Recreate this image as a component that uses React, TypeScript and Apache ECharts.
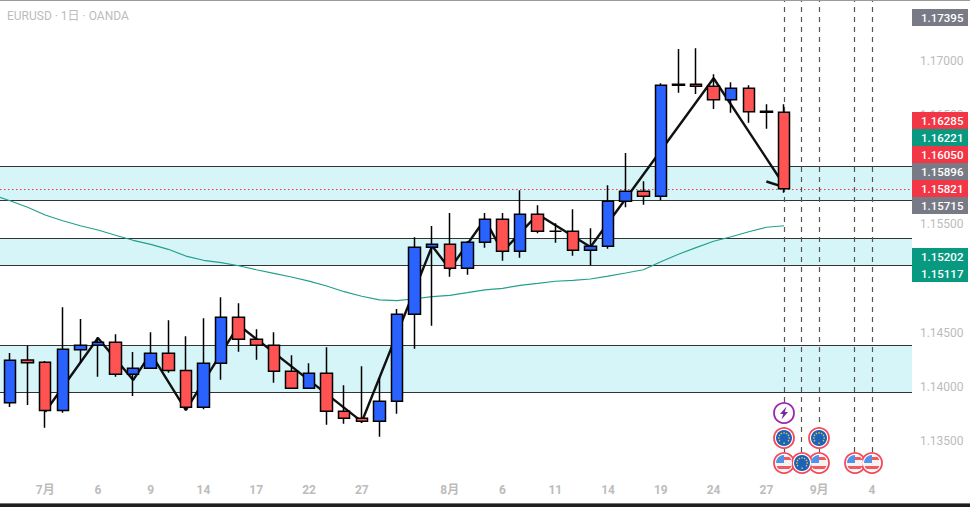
import React, { useEffect, useRef } from "react";
import * as echarts from "echarts";

const xLabels: Record<number, string> = {
  3: "7月", 6: "6", 9: "9", 12: "14", 15: "17", 18: "22", 21: "27",
  26: "8月", 29: "6", 32: "11", 35: "14", 38: "19", 41: "24", 44: "27", 47: "9月", 50: "4",
};
const categoryCount = 53;
const categories = Array.from({ length: categoryCount }, (_, i) => xLabels[i] ?? "");

const opens = [
  1.13855, 1.14248, 1.14227, 1.13785, 1.14343, 1.14384, 1.14411, 1.14117, 1.14172, 1.14310,
  1.14153, 1.13813, 1.14218, 1.14641, 1.14439, 1.14384, 1.14144, 1.13988, 1.14126, 1.13776,
  1.13712, 1.13684, 1.13868, 1.14669, 1.15286, 1.15313, 1.15092, 1.15332, 1.15543, 1.15249,
  1.15589, 1.15433, 1.15433, 1.15258, 1.15295, 1.15709, 1.15801, 1.15755, 1.16777, 1.16786,
  1.16767, 1.16644, 1.16749, 1.16538, 1.16528,
];
const closes = [
  1.14246, 1.14224, 1.13785, 1.14347, 1.14384, 1.14411, 1.14117, 1.14172, 1.14310, 1.14153,
  1.13813, 1.14218, 1.14641, 1.14439, 1.14384, 1.14144, 1.13988, 1.14126, 1.13776, 1.13712,
  1.13684, 1.13868, 1.14669, 1.15286, 1.15313, 1.15092, 1.15332, 1.15543, 1.15249, 1.15589,
  1.15433, 1.15433, 1.15258, 1.15295, 1.15709, 1.15801, 1.15755, 1.16776, 1.16786, 1.16767,
  1.16644, 1.16749, 1.16533, 1.16529, 1.15825,
];
const lows = [
  1.13816, 1.13834, 1.13625, 1.13763, 1.14221, 1.14095, 1.14095, 1.13917, 1.14172, 1.14131,
  1.13788, 1.13795, 1.14067, 1.14325, 1.14251, 1.14039, 1.13988, 1.13988, 1.13653, 1.13662,
  1.13669, 1.13542, 1.13754, 1.14352, 1.14564, 1.15015, 1.15033, 1.15282, 1.15162, 1.15190,
  1.15414, 1.15328, 1.15208, 1.15120, 1.15273, 1.15654, 1.15678, 1.15718, 1.16708, 1.16696,
  1.16558, 1.16524, 1.16432, 1.16377, 1.15788,
];
const highs = [
  1.14313, 1.14380, 1.14239, 1.14733, 1.14626, 1.14457, 1.14485, 1.14322, 1.14503, 1.14614,
  1.14466, 1.14632, 1.14825, 1.14770, 1.14531, 1.14503, 1.14292, 1.14218, 1.14365, 1.14016,
  1.14190, 1.14083, 1.14718, 1.15378, 1.15482, 1.15601, 1.15343, 1.15601, 1.15601, 1.15810,
  1.15672, 1.15506, 1.15635, 1.15460, 1.15856, 1.16153, 1.15893, 1.16795, 1.17110, 1.17117,
  1.16878, 1.16804, 1.16776, 1.16602, 1.16602,
];
const emaValues = [
  1.15769, 1.15714, 1.15654, 1.15583, 1.15530, 1.15484, 1.15445, 1.15396, 1.15350, 1.15313,
  1.15267, 1.15205, 1.15166, 1.15144, 1.15116, 1.15079, 1.15046, 1.15012, 1.14975, 1.14929,
  1.14877, 1.14835, 1.14801, 1.14794, 1.14812, 1.14831, 1.14844, 1.14868, 1.14893,
  1.14908, 1.14936, 1.14954, 1.14973, 1.14982, 1.14994, 1.15021, 1.15049, 1.15079, 1.15153,
  1.15221, 1.15282, 1.15341, 1.15383, 1.15429, 1.15470, 1.15484,
];
const zigzagPoints = [
  [3, 1.13773], [6, 1.14451], [8, 1.14064], [9, 1.1431], [11, 1.13788], [14, 1.1457],
  [21, 1.13681], [25, 1.15297], [26, 1.15086], [28, 1.15543], [29, 1.15245], [31, 1.15589],
  [34, 1.15288], [41, 1.16841], [45, 1.15859],
];
const zigzagTail = [[44, 1.15891], [45, 1.1584]];
const zones = [
  [1.16034, 1.15721],
  [1.15371, 1.15122],
  [1.14386, 1.13954],
];
const lastPrice = 1.15821;
const eventIndices = [45, 46, 47, 49, 50];
const tickValues = [1.135, 1.14, 1.145, 1.155, 1.165, 1.17];
const yMin = 1.13218;
const yMax = 1.17561;

const priceTags = [
  { text: "1.17395", color: "#787b86", top: 9 },
  { text: "1.16285", color: "#f23645", top: 112 },
  { text: "1.16221", color: "#089981", top: 129 },
  { text: "1.16050", color: "#f23645", top: 146 },
  { text: "1.15896", color: "#787b86", top: 163 },
  { text: "1.15821", color: "#f23645", top: 180 },
  { text: "1.15715", color: "#787b86", top: 197 },
  { text: "1.15202", color: "#089981", top: 248 },
  { text: "1.15117", color: "#089981", top: 265 },
];

const usIcons = [[784, 463], [819, 463], [855, 463], [872, 463]];
const euIcons = [[784, 438], [819, 438], [802, 463]];
const boltIcon = [784, 413];

const AXIS_TEXT = "#bcbcbc";
const FONT = "Roboto, 'Noto Sans CJK JP', sans-serif";

echarts.graphic.registerShape("usCanton", echarts.graphic.extendPath("M-8 0 A8 8 0 0 1 0 -8 L0 0 Z", {}));
echarts.graphic.registerShape("usBarTop", echarts.graphic.extendPath("M0 -6 L5.29 -6 A8 8 0 0 1 7.42 -3 L0 -3 Z", {}));
echarts.graphic.registerShape(
  "usBarMid",
  echarts.graphic.extendPath("M-7.42 3 L7.42 3 A8 8 0 0 1 5.29 6 L-5.29 6 A8 8 0 0 1 -7.42 3 Z", {})
);

const ringIcon = (x: number, y: number, children: any[], stroke = "#f5485a") => ({
  type: "group",
  x,
  y,
  z: 60,
  children: [
    { type: "circle", z: 60, shape: { r: 10 }, style: { fill: "#fff", stroke, lineWidth: 1.8 } },
    ...children,
  ],
});

const usIcon = ([x, y]: number[]) =>
  ringIcon(x, y, [
    { type: "circle", z: 61, shape: { r: 8 }, style: { fill: "#f6f2f2" } },
    { type: "usCanton", z: 62, style: { fill: "#4f93ea" } },
    { type: "usBarTop", z: 62, style: { fill: "#ee5a5f" } },
    { type: "usBarMid", z: 62, style: { fill: "#ee5a5f" } },
  ]);

const euIcon = ([x, y]: number[]) =>
  ringIcon(x, y, [
    { type: "circle", z: 61, shape: { r: 8 }, style: { fill: "#1c62b9" } },
    ...Array.from({ length: 12 }, (_, k) => ({
      type: "circle",
      z: 62,
      shape: {
        cx: 5.2 * Math.cos((k * Math.PI) / 6),
        cy: 5.2 * Math.sin((k * Math.PI) / 6),
        r: 0.75,
      },
      style: { fill: "#e8c84a" },
    })),
  ]);

const boltElement = ([x, y]: number[]) =>
  ringIcon(
    x,
    y,
    [
      {
        type: "polygon",
        z: 62,
        shape: { points: [[2.5, -6.5], [-4, 1], [-0.8, 1], [-2.5, 6.5], [4, -1], [0.8, -1]] },
        style: { fill: "#7b2a9c" },
      },
    ],
    "#9c27b0"
  );

export default function App() {
  const ref = useRef<HTMLDivElement>(null);
  useEffect(() => {
    document.body.style.margin = "0";
    const chart = echarts.init(ref.current!, undefined, { renderer: "svg" });
    const candles: any[] = ["-", ...opens.map((o, i) => [o, closes[i], lows[i], highs[i]])];
    const zoneEdgeStyle = { color: "#333333", type: "solid", width: 1.2 };
    const lastPriceStyle = { color: "#f23645", type: [1.5, 2.5], width: 1.2, opacity: 1 };
    chart.setOption({
      animation: false,
      backgroundColor: "#ffffff",
      title: {
        text: "EURUSD · 1日 · OANDA",
        left: 2,
        top: 4.5,
        textStyle: { fontSize: 12, fontWeight: "normal", color: AXIS_TEXT, fontFamily: FONT },
      },
      grid: { left: -16.385, right: 54.1, top: 0, bottom: 35, outerBoundsMode: "none" },
      xAxis: {
        type: "category",
        data: categories,
        axisLine: { show: false },
        axisTick: { show: false },
        splitLine: { show: false },
        axisLabel: {
          interval: 0,
          hideOverlap: false,
          margin: 12,
          fontSize: 12,
          color: AXIS_TEXT,
          fontFamily: FONT,
          fontWeight: "bold",
        },
      },
      yAxis: {
        type: "value",
        position: "right",
        min: yMin,
        max: yMax,
        axisLine: { show: false },
        axisTick: { show: false },
        splitLine: { show: false },
        axisLabel: {
          customValues: tickValues,
          margin: 4,
          fontSize: 12,
          color: AXIS_TEXT,
          fontFamily: FONT,
          formatter: (v: number) => v.toFixed(5),
        },
      },
      series: [
        {
          type: "line",
          name: "EMA",
          z: 3,
          data: emaValues,
          showSymbol: false,
          lineStyle: { color: "#22a08c", width: 1.2 },
          markArea: {
            silent: true,
            z: 1,
            itemStyle: { color: "#d6f5f8", borderWidth: 0 },
            data: zones.map(([hi, lo]) => [
              { x: -20, yAxis: hi },
              { x: 912, yAxis: lo },
            ]),
          },
          markLine: {
            silent: true,
            symbol: "none",
            z: 2,
            label: { show: false },
            data: [
              ...zones.flat().map((p) => [
                { x: 0, yAxis: p, lineStyle: zoneEdgeStyle },
                { x: 912, yAxis: p, lineStyle: zoneEdgeStyle },
              ]),
              [
                { x: 0, yAxis: lastPrice, lineStyle: lastPriceStyle },
                { x: 912, yAxis: lastPrice, lineStyle: lastPriceStyle },
              ],
              ...eventIndices.map((i) => ({
                xAxis: i,
                lineStyle: { color: "#555555", type: [5, 5], width: 1.2 },
              })),
            ],
          },
        },
        {
          type: "line",
          name: "ZigZag",
          z: 4,
          data: zigzagPoints,
          showSymbol: false,
          lineStyle: { color: "#111111", width: 2.4 },
        },
        {
          type: "line",
          name: "ZigZagTail",
          z: 4,
          data: zigzagTail,
          showSymbol: false,
          lineStyle: { color: "#111111", width: 2.4 },
        },
        {
          type: "candlestick",
          z: 10,
          barWidth: 12,
          data: candles,
          itemStyle: {
            color: "#2962ff",
            color0: "#ff5252",
            borderColor: "#000000",
            borderColor0: "#000000",
            borderWidth: 1.5,
          },
        },
      ],
      graphic: [
        { type: "rect", z: 70, shape: { x: 0, y: 0, width: 970, height: 1 }, style: { fill: "#9a9a9a" } },
        { type: "rect", z: 70, shape: { x: 0, y: 503, width: 970, height: 1 }, style: { fill: "#777777" } },
        { type: "rect", z: 70, shape: { x: 0, y: 504, width: 970, height: 3 }, style: { fill: "#1f1f1f" } },
        ...priceTags.flatMap((t) => [
          {
            type: "rect",
            z: 50,
            shape: { x: 912, y: t.top, width: 56, height: 17 },
            style: { fill: t.color },
          },
          {
            type: "text",
            z: 51,
            x: 921,
            y: t.top + 8.5,
            style: {
              text: t.text,
              fill: "#ffffff",
              font: `500 11.5px ${FONT}`,
              verticalAlign: "middle",
              align: "left",
            },
          },
        ]),
        boltElement(boltIcon),
        ...euIcons.slice(0, 2).map(euIcon),
        ...usIcons.map(usIcon),
        euIcon(euIcons[2]),
      ],
    });
    return () => chart.dispose();
  }, []);
  return <div ref={ref} style={{ width: 970, height: 507 }} />;
}
